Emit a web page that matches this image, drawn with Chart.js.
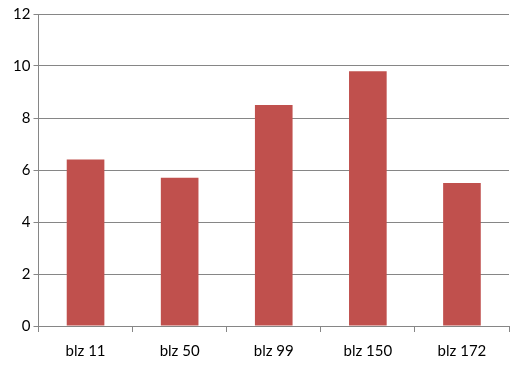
<!DOCTYPE html>
<html>
<head>
<meta charset="utf-8">
<script src="https://cdn.jsdelivr.net/npm/chart.js@4"></script>
<style>
  html, body { margin: 0; padding: 0; background: #fff; }
  #wrap { width: 525px; height: 376px; }
</style>
</head>
<body>
<div id="wrap"><canvas id="chart"></canvas></div>
<script>
// ===== DATA =====
const categories = ['blz 11', 'blz 50', 'blz 99', 'blz 150', 'blz 172'];
const values     = [6.4, 5.7, 8.5, 9.8, 5.5];
const yTicks     = [0, 2, 4, 6, 8, 10, 12];

const GRID = '#868686';
const FONT = { family: 'Lato', size: 15 };

new Chart(document.getElementById('chart'), {
  type: 'bar',
  data: {
    labels: categories,
    datasets: [{
      data: values,
      backgroundColor: '#C0504D',
      borderWidth: 0,
      barPercentage: 0.4,
      categoryPercentage: 1.0,
    }]
  },
  options: {
    responsive: true,
    maintainAspectRatio: false,
    animation: false,
    layout: { padding: { top: 14, right: 16, left: 0, bottom: 0 } },
    plugins: {
      legend: { display: false },
      tooltip: { enabled: false }
    },
    scales: {
      x: {
        grid: {
          offset: true,
          drawOnChartArea: false,
          drawTicks: true,
          tickLength: 6,
          color: GRID,
        },
        border: { display: true, color: GRID, width: 1 },
        ticks: { font: FONT, color: '#000', padding: 10, maxRotation: 0 },
        afterFit(scale) { scale.height = 50; }
      },
      y: {
        min: 0,
        max: 12,
        afterBuildTicks(scale) { scale.ticks = yTicks.map(v => ({ value: v })); },
        grid: { color: GRID, tickLength: 5 },
        border: { display: true, color: GRID, width: 1 },
        ticks: { font: FONT, color: '#000', padding: 3 },
        afterFit(scale) { scale.width = 38.5; }
      }
    }
  }
});
</script>
</body>
</html>
